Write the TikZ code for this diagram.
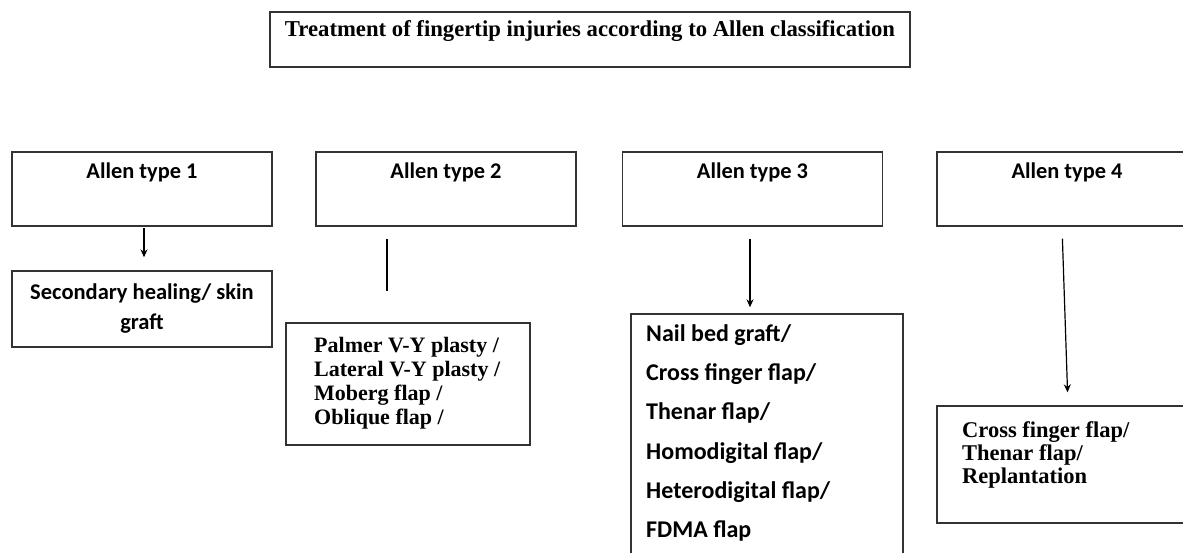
\documentclass[tikz,border=0pt]{standalone}
\usepackage{fontspec}
\setmainfont{Liberation Serif}
\newfontfamily\calib{Carlito}
\usetikzlibrary{arrows.meta}
\begin{document}
\begin{tikzpicture}[x=1pt,y=-1pt,
  box/.style={draw=black!80, line width=1.4pt, inner sep=0pt, rectangle},
  hdr/.style={font=\calib\bfseries\fontsize{22.4}{25}\selectfont, inner sep=0pt},
  cal/.style={font=\calib\bfseries\fontsize{24}{39.2}\selectfont, align=left, inner sep=0pt},
  ser/.style={font=\bfseries\fontsize{22}{24}\selectfont, align=left, inner sep=0pt},
  arr/.style={-{Stealth[length=8pt,width=7pt]}, line width=1.2pt},
  conn/.style={line width=1.6pt}]
\useasboundingbox (0,0) rectangle (1183,552);
\clip (0,0) rectangle (1183,552);

% title
\node[box, minimum width=640pt, minimum height=55pt] (title) at (590,39.5) {};
\node[font=\bfseries\fontsize{22.7}{26}\selectfont, inner sep=0pt] (titletext) at (590,31.5)
  {Treatment of fingertip injuries according to Allen classification};

% header boxes
\node[box, minimum width=260pt, minimum height=74pt] (h1) at (142,189) {};
\node[box, minimum width=260pt, minimum height=74pt] (h2) at (446,189) {};
\node[box, minimum width=260pt, minimum height=74pt] (h3) at (752.5,189) {};
\node[box, minimum width=260pt, minimum height=74pt] (h4) at (1067,189) {};
\node[hdr] (t1) at (142,172) {Allen type 1};
\node[hdr] (t2) at (446,172) {Allen type 2};
\node[hdr] (t3) at (752.5,172) {Allen type 3};
\node[hdr] (t4) at (1067,172) {Allen type 4};

% treatment boxes
\node[box, minimum width=260pt, minimum height=76pt] (b1) at (142,309) {};
\node[font=\calib\bfseries\fontsize{22.5}{30}\selectfont, align=center, inner sep=0pt] (b1t) at (142,309)
  {Secondary healing/ skin\\graft};

\node[box, minimum width=244pt, minimum height=122pt] (b2) at (408,384) {};
\node[ser, anchor=west] (b2t) at (314,383)
  {Palmer V-Y plasty /\\Lateral V-Y plasty /\\Moberg flap /\\Oblique flap /};

\node[box, minimum width=272pt, minimum height=286pt] (b3) at (767,457) {};
\node[cal, anchor=west] (b3t) at (646,433)
  {Nail bed graft/\\Cross finger flap/\\Thenar flap/\\Homodigital flap/\\Heterodigital flap/\\FDMA flap};

\node[box, minimum width=260pt, minimum height=117pt] (b4) at (1067,464.5) {};
\node[font=\bfseries\fontsize{22.5}{23}\selectfont, align=left, inner sep=0pt, anchor=west] (b4t) at (962,455)
  {Cross finger flap/\\Thenar flap/\\Replantation};

% connectors
\draw[arr, shorten <=1pt, shorten >=13pt] ([xshift=2pt]h1.south) -- ([xshift=2pt]b1.north);
\draw[conn, shorten <=12pt, shorten >=31pt] ([xshift=-59pt]h2.south) -- ([xshift=-21pt]b2.north);
\draw[arr, shorten <=12pt, shorten >=6pt] ([xshift=-2.5pt]h3.south) -- ([xshift=-17pt]b3.north);
\draw[arr, shorten <=12pt, shorten >=13pt] ([xshift=-5pt]h4.south) -- ([xshift=1pt]b4.north);
\end{tikzpicture}
\end{document}
